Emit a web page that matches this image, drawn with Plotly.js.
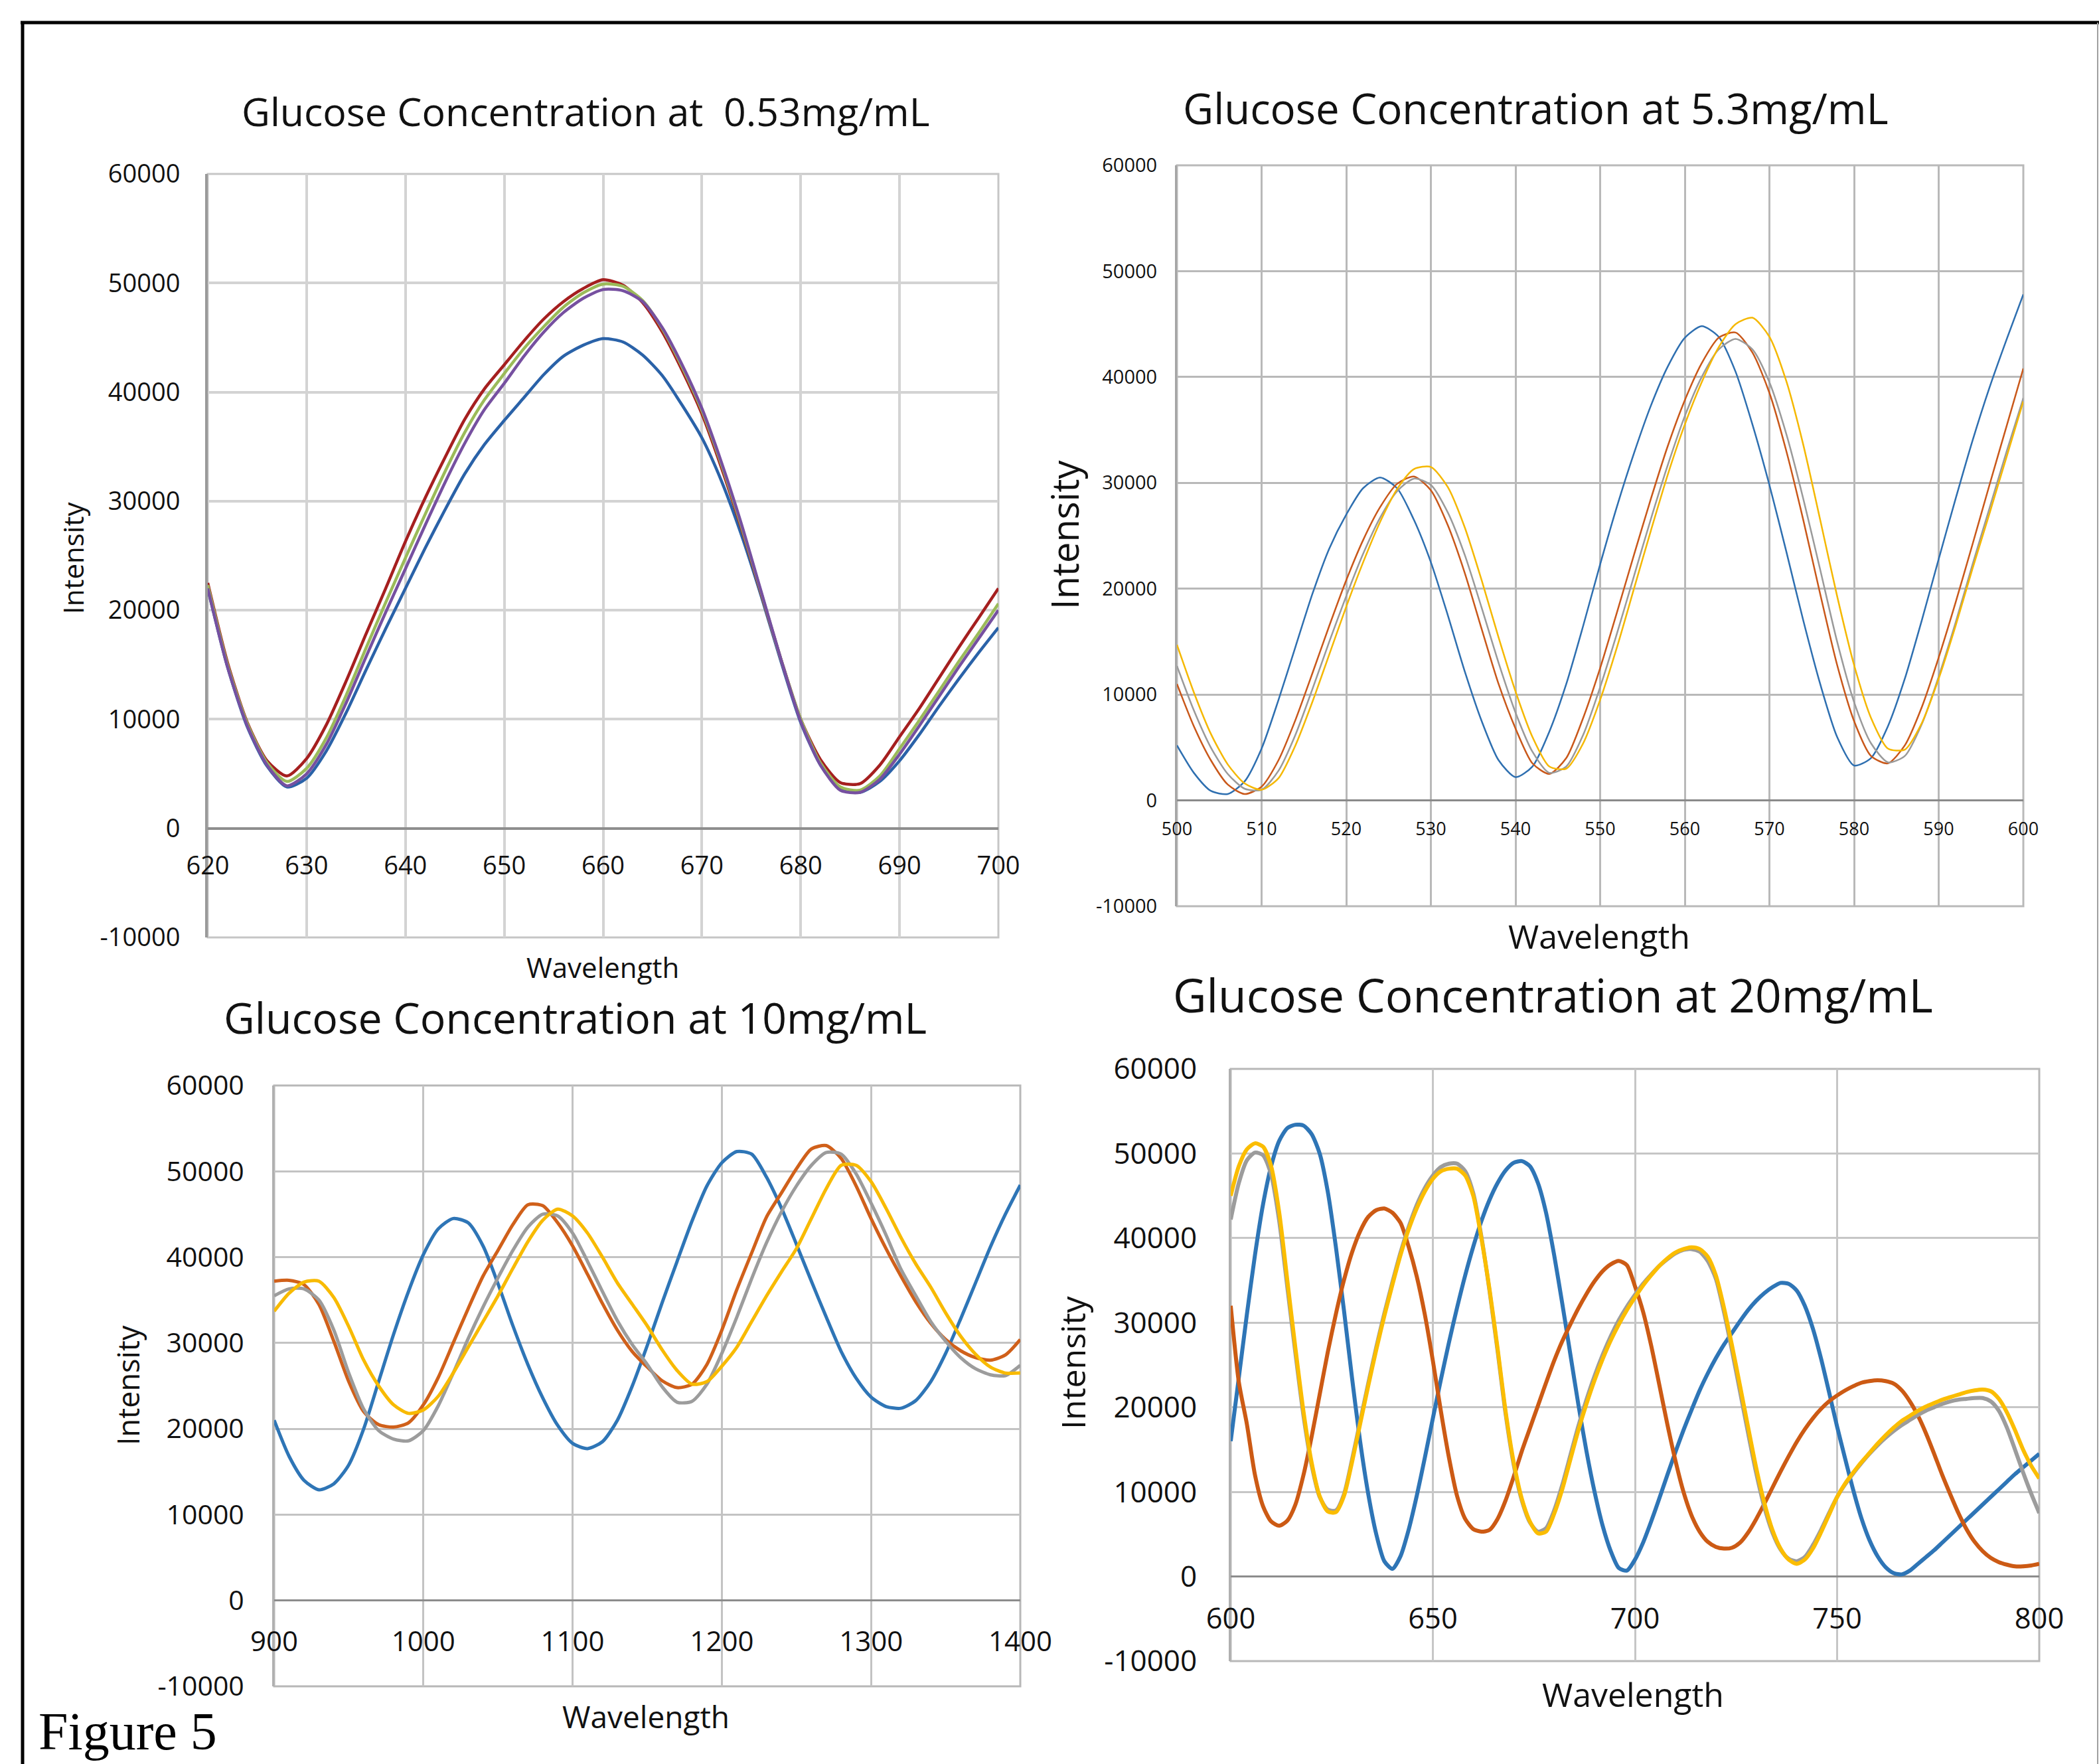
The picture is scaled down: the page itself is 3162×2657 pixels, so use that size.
<!DOCTYPE html>
<html><head><meta charset="utf-8">
<script src="https://cdn.plot.ly/plotly-3.0.1.min.js"></script>
<style>html,body{margin:0;padding:0;background:#fff;overflow:hidden}#chart{width:3162px;height:2657px}</style>
</head><body><div id="chart"></div>
<script>
// ---------------- DATA ----------------
const yTickVals = [-10000,0,10000,20000,30000,40000,50000,60000];
const yTickText = ['-10000','0','10000','20000','30000','40000','50000','60000'];

const titleA = 'Glucose Concentration at  0.53mg/mL';
const titleB = 'Glucose Concentration at 5.3mg/mL';
const titleC = 'Glucose Concentration at 10mg/mL';
const titleD = 'Glucose Concentration at 20mg/mL';

// Panel A : 0.53 mg/mL
const xA = [620,622,624,626,628,630,632,634,636,638,640,642,644,646,648,650,652,654,656,658,660,662,664,666,668,670,672,674,676,678,680,682,684,686,688,690,692,694,696,698,700];
const aBlue   = [22000,14800,9300,5700,3800,4600,7100,10600,14500,18300,22000,25700,29200,32500,35200,37400,39500,41600,43300,44300,44900,44600,43400,41500,38800,35800,31800,26900,21300,15300,9700,5800,3600,3300,4300,6200,8600,11200,13700,16100,18400];
const aRed    = [22500,15200,9700,6200,4800,6400,9500,13500,17800,22000,26300,30300,34000,37500,40300,42500,44700,46700,48300,49500,50300,49800,48200,45500,42000,38000,33000,27500,21500,15500,10000,6300,4200,4100,5800,8400,11000,13800,16600,19300,22000];
const aGreen  = [22300,15000,9600,6000,4300,5500,8300,12200,16500,20700,24800,28800,32700,36300,39300,41700,44000,46000,47800,49100,49900,49700,48400,45800,42300,38300,33300,27700,21600,15500,10000,6000,3800,3500,4800,7300,9900,12600,15300,17900,20600];
const aPurple = [22000,14800,9400,5800,3900,5000,7700,11500,15700,19800,23800,27800,31700,35300,38400,40800,43300,45500,47300,48600,49400,49300,48300,45900,42500,38500,33500,27900,21700,15500,9800,5800,3500,3300,4500,6800,9400,12100,14800,17400,20000];

// Panel B : 5.3 mg/mL
const xB = [500,502,504,506,508,510,512,514,516,518,520,522,524,526,528,530,532,534,536,538,540,542,544,546,548,550,552,554,556,558,560,562,564,566,568,570,572,574,576,578,580,582,584,586,588,590,592,594,596,598,600];
const bBlue   = [5200,2600,900,600,1800,4900,9500,14500,19500,23800,27000,29500,30500,29500,26500,22500,17500,12200,7500,3800,2200,3200,6500,11000,16500,22300,27800,32800,37300,41000,43700,44800,43800,40500,35500,29800,23500,17000,11000,6000,3300,4000,7000,11500,17000,22800,28500,34000,39000,43500,47800];
const bOrange = [11000,7000,3800,1500,600,1300,3800,7600,12000,16500,20800,24600,27700,29900,30600,29300,26000,21500,16200,11000,6800,3500,2500,4000,7800,12500,17800,23200,28500,33500,37800,41300,43700,44200,42300,38500,33000,26500,19500,12800,7500,4200,3500,5200,8800,13500,18700,24200,29800,35300,40800];
const bGray   = [12700,8500,5000,2500,1100,1000,2800,6200,10500,15000,19300,23300,26700,29200,30400,29800,27200,23200,18200,13000,8300,4600,2600,3200,6200,10700,15800,21200,26600,31700,36300,40000,42600,43600,42600,39500,34600,28500,21800,15000,9300,5400,3600,4200,7200,11700,16800,22300,27600,32900,38000];
const bYellow = [14700,10200,6300,3400,1600,1000,2100,5200,9300,13800,18300,22500,26300,29400,31300,31500,29600,25800,20800,15400,10300,6000,3200,3000,5400,9500,14500,20000,25500,30800,35500,39500,42800,45000,45600,43800,39600,33600,26500,19300,12800,7800,4900,4800,7300,11500,16500,21900,27100,32400,37700];

// Panel C : 10 mg/mL
const xC = [900,910,920,930,940,950,960,970,980,990,1000,1010,1020,1030,1040,1050,1060,1070,1080,1090,1100,1110,1120,1130,1140,1150,1160,1170,1180,1190,1200,1210,1220,1230,1240,1250,1260,1270,1280,1290,1300,1310,1320,1330,1340,1350,1360,1370,1380,1390,1400];
const cBlue   = [21000,16800,14000,12900,13600,15800,20000,25500,31000,36000,40300,43300,44500,44000,41300,36900,32000,27500,23600,20400,18300,17700,18500,21000,25000,29700,34700,39500,44200,48300,51000,52300,52000,49300,45700,41500,37200,33000,29000,25900,23700,22600,22400,23300,25500,28800,32800,37000,41200,45000,48400];
const cOrange = [37200,37300,36800,34500,30200,25500,22000,20500,20200,20700,22800,26000,30000,34000,37800,40800,43800,46100,46000,44000,41300,38000,34600,31500,29000,27200,25600,24800,25200,27500,31500,36200,40500,44700,47500,50300,52600,53000,51500,48300,44500,41000,37800,34800,32300,30400,29100,28300,28000,28600,30400];
const cGray   = [35500,36300,36300,35000,31500,26500,22300,19800,18800,18600,19800,22700,26500,30500,34200,37600,40800,43500,45000,44800,42800,39500,36000,32600,29800,27500,24900,23100,23200,25200,28800,33000,37500,41700,45300,48300,50700,52200,52000,49700,46300,42600,38600,35500,32500,30200,28300,27000,26300,26200,27400];
const cYellow = [33700,35800,37100,37200,35300,31900,28000,25000,22800,21800,22200,23800,26500,29500,32500,35500,38700,41800,44300,45600,44800,42800,40000,37000,34500,32000,29200,26800,25200,25500,27300,29500,32500,35500,38300,41000,44500,48000,50700,50700,48800,45700,42300,39200,36500,33500,30800,28700,27200,26500,26500];

// Panel D : 20 mg/mL
const xD = [600,602,604,606,608,610,612,614,616,618,620,622,624,626,628,630,632,634,636,638,640,642,644,646,648,650,652,654,656,658,660,662,664,666,668,670,672,674,676,678,680,682,684,686,688,690,692,694,696,698,700,702,704,706,708,710,712,714,716,718,720,722,724,726,728,730,732,734,736,738,740,742,744,746,748,750,752,754,756,758,760,762,764,766,768,770,772,774,776,778,780,782,784,786,788,790,792,794,796,798,800];
const dBlue   = [16000,23500,31000,38000,44000,48500,51500,53000,53400,53300,52300,50000,45500,39000,31500,23500,16000,9800,5000,1800,900,2400,5500,9500,14000,18700,23300,27700,31800,35600,39000,42000,44500,46500,48000,48900,49100,48500,46500,43000,38000,32300,26300,20300,14800,10000,6000,3000,1000,700,2000,4000,6500,9200,12000,14700,17300,19700,22000,24000,25800,27400,28800,30200,31500,32600,33500,34200,34700,34600,33800,32000,29300,25800,21800,17700,13900,10200,6900,4300,2400,1100,400,250,700,1500,2300,3100,4000,4900,5800,6700,7600,8500,9400,10300,11200,12100,12900,13700,14500];
const dOrange = [32000,23000,18000,12000,8300,6500,6000,6600,8500,12000,16500,21500,26500,31000,35000,38300,40800,42500,43300,43500,43000,41800,39000,35500,31000,25500,19500,14000,9500,6800,5600,5300,5500,6800,9000,11800,14800,17500,20200,22900,25500,27800,29800,31700,33400,34900,36100,36900,37300,36800,34300,31300,27300,22700,18000,13700,10000,7200,5300,4100,3500,3300,3400,4000,5200,6800,8600,10500,12400,14200,15900,17400,18700,19800,20700,21400,22000,22500,22900,23100,23200,23100,22800,22000,20700,19000,16900,14500,12000,9700,7500,5600,4100,3000,2200,1700,1400,1200,1200,1300,1500];
const dGray   = [42200,46500,49200,50100,49800,47500,42000,34200,26400,19000,13200,9400,7900,7800,9700,13800,18300,22800,27100,31100,34800,38300,41300,43900,45900,47400,48400,48800,48800,47900,45300,40200,33800,26700,19200,13200,9000,6400,5300,5700,7800,10800,14300,17800,20900,23700,26200,28400,30300,31900,33300,34600,35700,36700,37500,38200,38600,38700,38400,37300,35200,31300,26700,21800,16900,12200,8200,5200,3200,2100,1800,2300,3700,5500,7500,9400,10900,12200,13400,14500,15500,16400,17200,17900,18500,19100,19600,20000,20400,20700,20900,21000,21100,21100,20700,19600,17600,15000,12300,9800,7500];
const dYellow = [45000,48500,50500,51200,50800,48500,43000,35000,27000,19500,13500,9500,7700,7600,9500,13500,18000,22500,26800,30800,34500,38000,41000,43500,45500,47000,47900,48200,48200,47400,45000,40000,34000,27000,19500,13500,9200,6500,5100,5300,7400,10300,13800,17300,20400,23200,25700,27900,29800,31500,33000,34400,35600,36700,37600,38300,38700,38900,38700,37800,35600,31800,27300,22500,17600,12800,8700,5500,3300,2000,1500,2000,3300,5200,7300,9400,11000,12300,13500,14600,15700,16700,17600,18400,19000,19600,20100,20500,20900,21200,21500,21800,22000,22100,21900,21000,19400,17300,15000,13100,11600];

// ---------------- LAYOUT ----------------
const W = 3162, H = 2657;
const fx = px => px / W;
const fy = py => 1 - py / H;
const FONT = 'Open Sans, Noto Sans, sans-serif';

const panels = [
  {id:'', L:313, R:1504, T:262, B:1412, xr:[620,700], dt:10, tf:38, txf:38, ys:30, xs:30,
   grid:'#d3d3d3', gw:4, zc:'#8e8e8e', zw:4, lc:'#9a9a9a', frame:'#c6c6c6',
   series:[[xA,aBlue,'#2a62a8'],[xA,aRed,'#a51f1f'],[xA,aGreen,'#9bbb59'],[xA,aPurple,'#7650a0']], lw:4.5,
   title:titleA, tx:882, ty:167, tsz:59,
   ytitle:{x:110, y:841, s:42}, xtitle:{x:908, y:1456, s:42}},
  {id:'2', L:1773, R:3048, T:249, B:1365, xr:[500,600], dt:10, tf:29, txf:27, ys:21, xs:24,
   grid:'#b9b9b9', gw:3, zc:'#8a8a8a', zw:3, lc:'#a6a6a6', frame:'#b9b9b9',
   series:[[xB,bBlue,'#2e6fb0'],[xB,bOrange,'#c9581a'],[xB,bGray,'#9a9a9a'],[xB,bYellow,'#f5b800']], lw:2.5,
   title:titleB, tx:2313, ty:162, tsz:63.5,
   ytitle:{x:1603, y:805, s:56}, xtitle:{x:2409, y:1410, s:50}},
  {id:'3', L:413, R:1537, T:1635, B:2540, xr:[900,1400], dt:100, tf:41, txf:42, ys:34, xs:33,
   grid:'#c3c3c3', gw:3, zc:'#8c8c8c', zw:3, lc:'#b0b0b0', frame:'#b8b8b8',
   series:[[xC,cBlue,'#2e75b6'],[xC,cOrange,'#d0601a'],[xC,cGray,'#9c9c9c'],[xC,cYellow,'#f8ba00']], lw:5,
   title:titleC, tx:867, ty:1532, tsz:64.3,
   ytitle:{x:192, y:2087, s:45}, xtitle:{x:973, y:2585, s:46}},
  {id:'4', L:1854, R:3072, T:1610, B:2502, xr:[600,800], dt:50, tf:44, txf:43.5, ys:39, xs:34,
   grid:'#c6c6c6', gw:3, zc:'#8c8c8c', zw:3, lc:'#b0b0b0', frame:'#b8b8b8',
   series:[[xD,dBlue,'#2e75b6'],[xD,dOrange,'#cc5a14'],[xD,dGray,'#9c9c9c'],[xD,dYellow,'#fbbd00']], lw:6,
   title:titleD, tx:2339, ty:1498, tsz:69.5,
   ytitle:{x:1616, y:2053, s:50}, xtitle:{x:2460, y:2552, s:50}}
];

const traces = [];
const layout = {
  width: W, height: H,
  margin: {l:0, r:0, t:0, b:0, pad:0},
  paper_bgcolor: '#ffffff', plot_bgcolor: '#ffffff',
  showlegend: false, hovermode: false,
  font: {family: FONT, color: '#111111'},
  annotations: [], shapes: []
};

panels.forEach(p => {
  const xa = 'xaxis' + p.id, ya = 'yaxis' + p.id;
  const xs = 'x' + p.id, ys = 'y' + p.id;
  const y0 = fy(p.B), y1 = fy(p.T);
  const zeroPos = y0 + (y1 - y0) * (10000 / 70000);
  layout[xa] = {
    domain: [fx(p.L), fx(p.R)], range: p.xr, anchor: 'free', position: zeroPos,
    tickmode: 'linear', tick0: p.xr[0], dtick: p.dt, ticks: '',
    showgrid: true, gridcolor: p.grid, gridwidth: p.gw,
    zeroline: false, showline: false, fixedrange: true,
    tickfont: {family: FONT, size: p.txf, color: '#111'}, ticklabelstandoff: p.xs
  };
  layout[ya] = {
    domain: [y0, y1], range: [-10000, 60000], anchor: xs,
    tickmode: 'array', tickvals: yTickVals, ticktext: yTickText, ticks: '',
    showgrid: true, gridcolor: p.grid, gridwidth: p.gw,
    zeroline: true, zerolinecolor: p.zc, zerolinewidth: p.zw,
    showline: true, linecolor: p.lc, linewidth: p.gw, fixedrange: true,
    tickfont: {family: FONT, size: p.tf, color: '#111'}, ticklabelstandoff: p.ys
  };
  p.series.forEach(s => traces.push({
    type: 'scatter', mode: 'lines', x: s[0], y: s[1], xaxis: xs, yaxis: ys,
    line: {color: s[2], width: p.lw, shape: 'spline', smoothing: 0.7},
    hoverinfo: 'skip'
  }));
  layout.shapes.push({type:'rect', xref: xs + ' domain', yref: ys + ' domain', x0:0, x1:1, y0:0, y1:1,
    line:{color:p.frame, width:3}, layer:'below'});
  layout.annotations.push({text: p.title, xref:'paper', yref:'paper', x: fx(p.tx), y: fy(p.ty),
    xanchor:'center', yanchor:'middle', showarrow:false, font:{family:FONT, size:p.tsz, color:'#111'}});
  layout.annotations.push({text: 'Intensity', xref:'paper', yref:'paper', x: fx(p.ytitle.x), y: fy(p.ytitle.y),
    xanchor:'center', yanchor:'middle', textangle:-90, showarrow:false, font:{family:FONT, size:p.ytitle.s, color:'#111'}});
  layout.annotations.push({text: 'Wavelength', xref:'paper', yref:'paper', x: fx(p.xtitle.x), y: fy(p.xtitle.y),
    xanchor:'center', yanchor:'middle', showarrow:false, font:{family:FONT, size:p.xtitle.s, color:'#111'}});
});

layout.annotations.push({text:'Figure 5', xref:'paper', yref:'paper', x: fx(56), y: fy(2562),
  xanchor:'left', yanchor:'top', showarrow:false, font:{family:'Liberation Serif, Times New Roman, serif', size:80, color:'#000'}});

// page frame lines
layout.shapes.push({type:'line', xref:'paper', yref:'paper', x0: fx(31), x1: 1, y0: fy(34), y1: fy(34), line:{color:'#000', width:5}});
layout.shapes.push({type:'line', xref:'paper', yref:'paper', x0: fx(34), x1: fx(34), y0: 0, y1: fy(32), line:{color:'#000', width:5}});
layout.shapes.push({type:'line', xref:'paper', yref:'paper', x0: fx(3160), x1: fx(3160), y0: 0, y1: fy(34), line:{color:'#a0a0a0', width:2}});

Plotly.newPlot('chart', traces, layout, {staticPlot: true, displayModeBar: false});
</script></body></html>
